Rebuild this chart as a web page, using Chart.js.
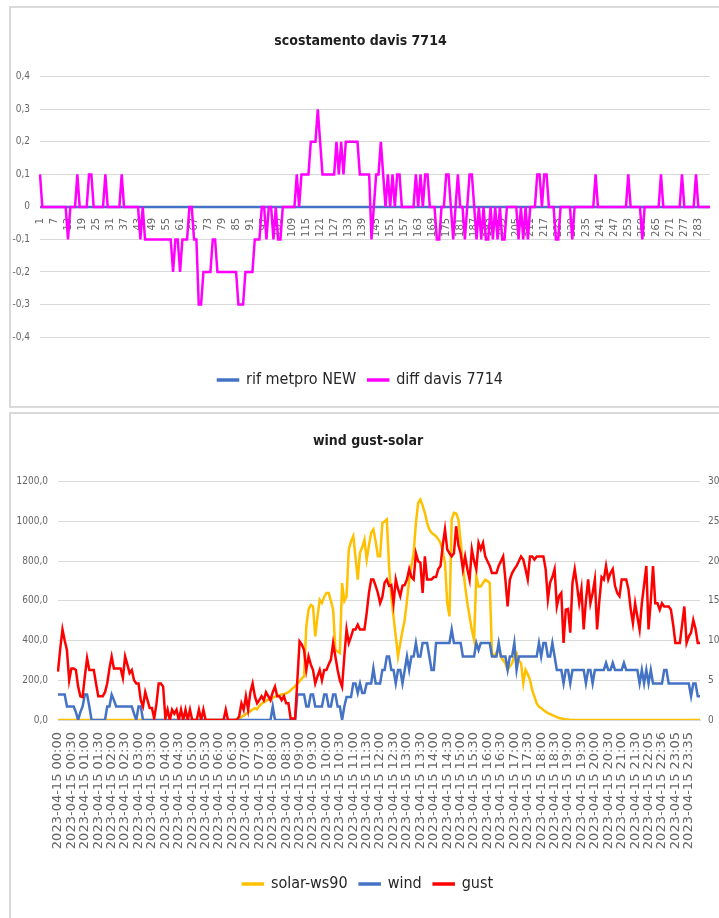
<!DOCTYPE html>
<html>
<head>
<meta charset="utf-8">
<script src="https://cdn.jsdelivr.net/npm/chart.js@4.4.0/dist/chart.umd.min.js"></script>
<style>
  html, body { margin: 0; padding: 0; background: #fff; overflow: hidden; }
  body { width: 719px; height: 918px; position: relative; }
  .frame { position: absolute; border: 2px solid #d9d9d9; box-sizing: border-box; }
  .box { position: absolute; }
</style>
</head>
<body>
<div class="frame" style="left:9px;top:6px;width:760px;height:402px"></div>
<div class="box" style="left:11px;top:8px;width:714px;height:398px"><canvas id="devChart"></canvas></div>
<div class="frame" style="left:9px;top:412px;width:760px;height:520px"></div>
<div class="box" style="left:11px;top:414px;width:714px;height:504px"><canvas id="windChart"></canvas></div>
<script>
// ================= DATA: scostamento davis 7714 =================
const devTicks = [1, 7, 13, 19, 25, 31, 37, 43, 49, 55, 61, 67, 73, 79, 85, 91, 97, 103, 109, 115, 121, 127, 133, 139,
  145, 151, 157, 163, 169, 175, 181, 187, 193, 199, 205, 211, 217, 223, 229, 235, 241, 247, 253, 259, 265, 271, 277, 283];

const rifMetpro = [
  0,0,0,0,0,0,0,0,0,0,0,0, 0,0,0,0,0,0,0,0,0,0,0,0, 0,0,0,0,0,0,0,0,0,0,0,0, 0,0,0,0,0,0,0,0,0,0,0,0,
  0,0,0,0,0,0,0,0,0,0,0,0, 0,0,0,0,0,0,0,0,0,0,0,0, 0,0,0,0,0,0,0,0,0,0,0,0, 0,0,0,0,0,0,0,0,0,0,0,0,
  0,0,0,0,0,0,0,0,0,0,0,0, 0,0,0,0,0,0,0,0,0,0,0,0, 0,0,0,0,0,0,0,0,0,0,0,0, 0,0,0,0,0,0,0,0,0,0,0,0,
  0,0,0,0,0,0,0,0,0,0,0,0, 0,0,0,0,0,0,0,0,0,0,0,0, 0,0,0,0,0,0,0,0,0,0,0,0, 0,0,0,0,0,0,0,0,0,0,0,0,
  0,0,0,0,0,0,0,0,0,0,0,0, 0,0,0,0,0,0,0,0,0,0,0,0, 0,0,0,0,0,0,0,0,0,0,0,0, 0,0,0,0,0,0,0,0,0,0,0,0,
  0,0,0,0,0,0,0,0,0,0,0,0, 0,0,0,0,0,0,0,0,0,0,0,0, 0,0,0,0,0,0,0,0,0,0,0,0, 0,0,0,0,0,0,0,0,0,0,0,0
];

const diffDavis = [
  0.1, 0, 0, 0, 0, 0, 0, 0, 0, 0, 0, 0,
  -0.1, 0, 0, 0, 0.1, 0, 0, 0, 0, 0.1, 0.1, 0,
  0, 0, 0, 0, 0.1, 0, 0, 0, 0, 0, 0, 0.1,
  0, 0, 0, 0, 0, 0, 0, -0.1, 0, -0.1, -0.1, -0.1,
  -0.1, -0.1, -0.1, -0.1, -0.1, -0.1, -0.1, -0.1, -0.1, -0.2, -0.1, -0.1,
  -0.2, -0.1, -0.1, -0.1, 0, 0, -0.1, -0.1, -0.3, -0.3, -0.2, -0.2,
  -0.2, -0.2, -0.1, -0.1, -0.2, -0.2, -0.2, -0.2, -0.2, -0.2, -0.2, -0.2,
  -0.2, -0.3, -0.3, -0.3, -0.2, -0.2, -0.2, -0.2, -0.1, -0.1, -0.1, 0,
  0, -0.1, 0, 0, -0.1, 0, -0.1, -0.1, 0, 0, 0, 0,
  0, 0, 0.1, 0, 0.1, 0.1, 0.1, 0.1, 0.2, 0.2, 0.2, 0.3,
  0.2, 0.1, 0.1, 0.1, 0.1, 0.1, 0.1, 0.2, 0.1, 0.2, 0.1, 0.2,
  0.2, 0.2, 0.2, 0.2, 0.2, 0.1, 0.1, 0.1, 0.1, 0.1, -0.1, 0,
  0.1, 0.1, 0.2, 0.1, 0, 0.1, 0, 0.1, 0, 0.1, 0.1, 0,
  0, 0, 0, 0, 0, 0.1, 0, 0.1, 0, 0.1, 0.1, 0,
  0, 0, -0.1, -0.1, 0, 0, 0.1, 0.1, 0, -0.1, 0, 0.1,
  0, 0, -0.1, 0, 0.1, 0.1, 0, -0.1, 0, -0.1, 0, -0.1,
  -0.1, 0, -0.1, 0, -0.1, 0, -0.1, -0.1, 0, 0, 0, 0,
  0, -0.1, 0, -0.1, 0, -0.1, 0, 0, 0, 0.1, 0.1, 0,
  0.1, 0.1, 0, 0, 0, -0.1, -0.1, 0, 0, 0, 0, 0,
  -0.1, 0, 0, 0, 0, 0, 0, 0, 0, 0, 0.1, 0,
  0, 0, 0, 0, 0, 0, 0, 0, 0, 0, 0, 0,
  0.1, 0, 0, 0, 0, 0, -0.1, 0, 0, 0, 0, 0,
  0, 0, 0.1, 0, 0, 0, 0, 0, 0, 0, 0, 0.1,
  0, 0, 0, 0, 0, 0.1, 0, 0, 0, 0, 0, 0
];

// ================= DATA: wind gust-solar =================
const timeTicks = [
  '2023-04-15 00:00', '2023-04-15 00:30', '2023-04-15 01:00', '2023-04-15 01:30', '2023-04-15 02:00', '2023-04-15 02:30',
  '2023-04-15 03:00', '2023-04-15 03:30', '2023-04-15 04:00', '2023-04-15 04:30', '2023-04-15 05:00', '2023-04-15 05:30',
  '2023-04-15 06:00', '2023-04-15 06:30', '2023-04-15 07:00', '2023-04-15 07:30', '2023-04-15 08:00', '2023-04-15 08:30',
  '2023-04-15 09:00', '2023-04-15 09:30', '2023-04-15 10:00', '2023-04-15 10:30', '2023-04-15 11:00', '2023-04-15 11:30',
  '2023-04-15 12:00', '2023-04-15 12:30', '2023-04-15 13:00', '2023-04-15 13:30', '2023-04-15 14:00', '2023-04-15 14:30',
  '2023-04-15 15:00', '2023-04-15 15:30', '2023-04-15 16:00', '2023-04-15 16:30', '2023-04-15 17:00', '2023-04-15 17:30',
  '2023-04-15 18:00', '2023-04-15 18:30', '2023-04-15 19:00', '2023-04-15 19:30', '2023-04-15 20:00', '2023-04-15 20:30',
  '2023-04-15 21:00', '2023-04-15 21:30', '2023-04-15 22:05', '2023-04-15 22:36', '2023-04-15 23:05', '2023-04-15 23:35'
];

const solar = [
  0, 0, 0, 0, 0, 0, 0, 0, 0, 0, 0, 0,
  0, 0, 0, 0, 0, 0, 0, 0, 0, 0, 0, 0,
  0, 0, 0, 0, 0, 0, 0, 0, 0, 0, 0, 0,
  0, 0, 0, 0, 0, 0, 0, 0, 0, 0, 0, 0,
  0, 0, 0, 0, 0, 0, 0, 0, 0, 0, 0, 0,
  0, 0, 0, 0, 0, 0, 0, 0, 0, 0, 0, 0,
  0, 0, 0, 0, 0, 0, 0, 0, 5, 8, 15, 22,
  30, 38, 45, 52, 60, 55, 70, 82, 90, 96, 105, 100,
  112, 118, 120, 125, 130, 128, 135, 140, 150, 160, 170, 185,
  195, 210, 219, 471, 556, 580, 572, 421, 520, 606, 589, 620,
  640, 640, 600, 556, 354, 345, 337, 690, 600, 623, 859, 900,
  926, 820, 707, 842, 870, 909, 808, 880, 943, 960, 900, 825,
  825, 993, 1000, 1010, 774, 623, 520, 421, 320, 387, 450, 505,
  600, 707, 780, 842, 993, 1094, 1111, 1080, 1044, 993, 960, 943,
  935, 926, 910, 892, 850, 791, 589, 522, 1010, 1044, 1040, 1010,
  900, 780, 673, 589, 520, 455, 404, 724, 673, 673, 690, 707,
  700, 690, 337, 320, 340, 354, 320, 300, 286, 253, 270, 286,
  320, 337, 300, 286, 185, 253, 230, 202, 150, 118, 84, 67,
  60, 50, 42, 35, 30, 25, 20, 15, 10, 8, 5, 3,
  2, 0, 0, 0, 0, 0, 0, 0, 0, 0, 0, 0,
  0, 0, 0, 0, 0, 0, 0, 0, 0, 0, 0, 0,
  0, 0, 0, 0, 0, 0, 0, 0, 0, 0, 0, 0,
  0, 0, 0, 0, 0, 0, 0, 0, 0, 0, 0, 0,
  0, 0, 0, 0, 0, 0, 0, 0, 0, 0, 0, 0
];

const wind = [
  3.2, 3.2, 3.2, 3.2, 1.7, 1.7, 1.7, 1.7, 1, 0, 1, 1.7,
  3.2, 3.2, 1.7, 0, 0, 0, 0, 0, 0, 0, 1.7, 1.7,
  3.2, 2.5, 1.7, 1.7, 1.7, 1.7, 1.7, 1.7, 1.7, 1.7, 0.8, 0,
  1.7, 1.7, 0, 0, 0, 0, 0, 0, 0, 0, 0, 0,
  0, 0, 0, 0, 0, 0, 0, 0, 0, 0, 0, 0,
  0, 0, 0, 0, 0, 0, 0, 0, 0, 0, 0, 0,
  0, 0, 0, 0, 0, 0, 0, 0, 0, 0, 0, 0,
  0, 0, 0, 0, 0, 0, 0, 0, 0, 0, 0, 0,
  1.7, 0, 0, 0, 0, 0, 0, 0, 0, 0, 0, 3.2,
  3.2, 3.2, 3.2, 1.7, 1.7, 3.2, 3.2, 1.7, 1.7, 1.7, 1.7, 3.2,
  3.2, 1.7, 1.7, 3.2, 3.2, 1.7, 1.7, 0, 1.7, 2.9, 2.9, 2.9,
  4.6, 4.6, 3.4, 4.6, 3.4, 3.4, 4.6, 4.6, 4.6, 6.5, 4.6, 4.6,
  4.6, 6.3, 6.3, 8, 8, 6.3, 6.3, 4.6, 6.3, 6.3, 4.6, 6.3,
  8, 6.3, 8, 8, 9.7, 8, 8, 9.7, 9.7, 9.7, 8, 6.3,
  6.3, 9.7, 9.7, 9.7, 9.7, 9.7, 9.7, 9.7, 11.4, 9.7, 9.7, 9.7,
  9.7, 8, 8, 8, 8, 8, 8, 9.7, 8.8, 9.7, 9.7, 9.7,
  9.7, 9.7, 8, 8, 8, 9.7, 8, 8, 8, 6.3, 8, 8,
  9.7, 6.3, 8, 8, 8, 8, 8, 8, 8, 8, 8, 9.7,
  8, 9.7, 9.7, 8, 8, 9.7, 8, 6.3, 6.3, 6.3, 4.6, 6.3,
  6.3, 4.6, 6.3, 6.3, 6.3, 6.3, 6.3, 6.3, 4.6, 6.3, 6.3, 4.6,
  6.3, 6.3, 6.3, 6.3, 6.3, 7.2, 6.3, 6.3, 7.2, 6.3, 6.3, 6.3,
  6.3, 7.2, 6.3, 6.3, 6.3, 6.3, 6.3, 6.3, 4.6, 6.3, 4.6, 6.3,
  4.6, 6.3, 4.6, 4.6, 4.6, 4.6, 4.6, 6.3, 6.3, 4.6, 4.6, 4.6,
  4.6, 4.6, 4.6, 4.6, 4.6, 4.6, 4.6, 3, 4.6, 4.6, 3, 3
];

const gust = [
  6.1, 9, 11.4, 10, 8.8, 5, 6.5, 6.5, 6.3, 4.2, 3, 2.9,
  5.5, 7.8, 6.3, 6.3, 6.3, 4.6, 3, 3, 3, 3.5, 4.6, 6.5,
  8, 6.5, 6.5, 6.5, 6.5, 5.3, 8, 7, 5.9, 6.3, 5, 4.6,
  4.6, 2.5, 1.7, 3.5, 2.5, 1.5, 1.5, 0.2, 2, 4.6, 4.6, 4.2,
  0.2, 1.3, 0, 1.3, 0.8, 1.3, 0, 1.3, 0, 1.3, 0, 1.3,
  0, 0, 0, 1.3, 0, 1.3, 0, 0, 0, 0, 0, 0,
  0, 0, 0, 1.3, 0, 0, 0, 0, 0, 0.5, 2.1, 1.3,
  3, 1.3, 3.5, 4.6, 3, 2.1, 2.5, 3, 2.5, 3.5, 3, 2.5,
  3.5, 4.2, 3, 3, 2.5, 3, 2.1, 2.1, 0.2, 0.2, 0.2, 5,
  9.9, 9.5, 8.8, 6.3, 8, 7, 6.3, 4.6, 5.5, 6.3, 5, 6.3,
  6.3, 7, 7.6, 9.7, 8, 6.3, 5, 4.2, 8, 11.4, 9.7, 10.5,
  11.4, 11.4, 12, 11.4, 11.4, 11.4, 13.5, 16, 17.7, 17.7, 16.9, 16,
  14.7, 15.5, 17.3, 17.7, 16.9, 17, 14.7, 17.7, 16.5, 15.6, 16.9, 17,
  17.7, 19, 18, 17.7, 21, 20, 19.8, 16, 20.6, 17.7, 17.7, 17.7,
  18, 18, 19, 19.4, 22, 24, 21.5, 21, 20.6, 21, 24.4, 22,
  21, 19, 20.6, 19, 17.7, 21.5, 20, 19, 22.3, 21.5, 22.3, 20.6,
  20, 19.4, 18.5, 18.5, 18.5, 19.4, 20, 20.6, 17.7, 14.3, 17.7, 18.5,
  19, 19.4, 20, 20.6, 20.2, 19, 17.7, 20.6, 20.6, 20.2, 20.6, 20.6,
  20.6, 20.6, 19, 15.2, 17.3, 18, 19, 14.3, 15.6, 16, 9.7, 13.9,
  14, 11, 17.3, 19, 17, 14.7, 16.5, 11.4, 15, 17.7, 14.7, 16,
  17.7, 11.4, 15, 18, 17.7, 19.4, 17.7, 18.5, 19, 16.9, 16, 15.6,
  17.7, 17.7, 17.7, 16.5, 14, 12.2, 14.7, 13, 11.4, 14.7, 17, 19.4,
  11.4, 15, 19.4, 14.7, 14.7, 13.9, 14.7, 14.3, 14.3, 14.3, 13.9, 12,
  9.7, 9.7, 9.7, 12, 14.3, 9.7, 10.5, 11, 12.6, 11.5, 9.7, 9.7
];

// ================= HELPERS =================
const FONT = "'Liberation Sans Narrow', 'DejaVu Sans Condensed', 'Liberation Sans', sans-serif";
const TICK_COLOR = "#666666";
const GRID_COLOR = "#d9d9d9";

function comma(v, digits) {
  return v.toFixed(digits).replace(".", ",");
}

Chart.defaults.font.family = FONT;
Chart.defaults.animation = false;

// ================= CHART 1: scostamento davis 7714 =================
new Chart(document.getElementById("devChart"), {
  type: "line",
  data: {
    labels: diffDavis.map((_, i) => i + 1),
    datasets: [
      { label: "rif metpro NEW", data: rifMetpro, borderColor: "#4472c4", backgroundColor: "#4472c4",
        borderWidth: 2.5, pointRadius: 0, order: 1 },
      { label: "diff davis 7714", data: diffDavis, borderColor: "#ff00ff", backgroundColor: "#ff00ff",
        borderWidth: 2.5, pointRadius: 0, order: 0 }
    ]
  },
  options: {
    responsive: true,
    maintainAspectRatio: false,
    layout: { padding: { left: 0, right: 15, top: 0, bottom: 8 } },
    plugins: {
      title: {
        display: true, text: "scostamento davis 7714", color: "#1f1f1f",
        font: { size: 14, weight: "bold" }, padding: { top: 25, bottom: 27 }
      },
      legend: {
        position: "bottom",
        title: { display: true, text: "", font: { size: 10 }, padding: { top: 11, bottom: 0 } },
        labels: {
          color: "#262626", font: { size: 16 }, boxWidth: 20, boxHeight: 1, padding: 12,
          sort: (a, b) => a.datasetIndex - b.datasetIndex
        }
      },
      tooltip: { enabled: false }
    },
    scales: {
      x: {
        position: { y: 0 },
        grid: { display: false },
        border: { display: false },
        ticks: {
          autoSkip: false, maxRotation: 90, minRotation: 90, padding: 3,
          color: TICK_COLOR, font: { family: "'DejaVu Sans', sans-serif", size: 10 },
          callback: (v, i) => (i % 6 === 0 ? devTicks[i / 6] : null)
        }
      },
      y: {
        min: -0.4, max: 0.4,
        afterFit: s => { s.width = 29; },
        grid: { color: GRID_COLOR, drawTicks: false },
        border: { display: false },
        ticks: {
          stepSize: 0.1, padding: 10, color: TICK_COLOR, font: { size: 10 },
          callback: v => (Math.abs(v) < 1e-9 ? "0" : comma(v, 1))
        }
      }
    }
  }
});

// ================= CHART 2: wind gust-solar =================
new Chart(document.getElementById("windChart"), {
  type: "line",
  data: {
    labels: solar.map((_, i) => (i % 6 === 0 ? timeTicks[i / 6] : "")),
    datasets: [
      { label: "solar-ws90", data: solar, yAxisID: "y", borderColor: "#ffc000", backgroundColor: "#ffc000",
        borderWidth: 2.5, pointRadius: 0, order: 2 },
      { label: "wind", data: wind, yAxisID: "y1", borderColor: "#4472c4", backgroundColor: "#4472c4",
        borderWidth: 2.5, pointRadius: 0, order: 1 },
      { label: "gust", data: gust, yAxisID: "y1", borderColor: "#ff0000", backgroundColor: "#ff0000",
        borderWidth: 2.5, pointRadius: 0, order: 0 }
    ]
  },
  options: {
    responsive: true,
    maintainAspectRatio: false,
    layout: { padding: { left: 0, right: 0, top: 0, bottom: 16 } },
    plugins: {
      title: {
        display: true, text: "wind gust-solar", color: "#1f1f1f",
        font: { size: 14, weight: "bold" }, padding: { top: 19, bottom: 32 }
      },
      legend: {
        position: "bottom",
        labels: {
          color: "#262626", font: { size: 16 }, boxWidth: 20, boxHeight: 1, padding: 12,
          sort: (a, b) => a.datasetIndex - b.datasetIndex
        }
      },
      tooltip: { enabled: false }
    },
    scales: {
      x: {
        afterFit: s => { s.height = 144; },
        grid: { display: false },
        border: { color: GRID_COLOR },
        ticks: {
          autoSkip: false, maxRotation: 90, minRotation: 90, padding: 4,
          color: TICK_COLOR, font: { family: "'DejaVu Sans', sans-serif", size: 13 },
          callback: function (v) { const t = this.getLabelForValue(v); return t === "" ? null : t; }
        }
      },
      y: {
        position: "left", min: 0, max: 1200,
        afterFit: s => { s.width = 47; },
        grid: { color: GRID_COLOR, drawTicks: false },
        border: { display: false },
        ticks: { stepSize: 200, padding: 10, color: TICK_COLOR, font: { size: 10 }, callback: v => comma(v, 1) }
      },
      y1: {
        position: "right", min: 0, max: 30,
        afterFit: s => { s.width = 25; },
        grid: { display: false, drawTicks: false },
        border: { display: false },
        ticks: { stepSize: 5, padding: 8, color: TICK_COLOR, font: { size: 10 } }
      }
    }
  }
});
</script>
</body>
</html>
